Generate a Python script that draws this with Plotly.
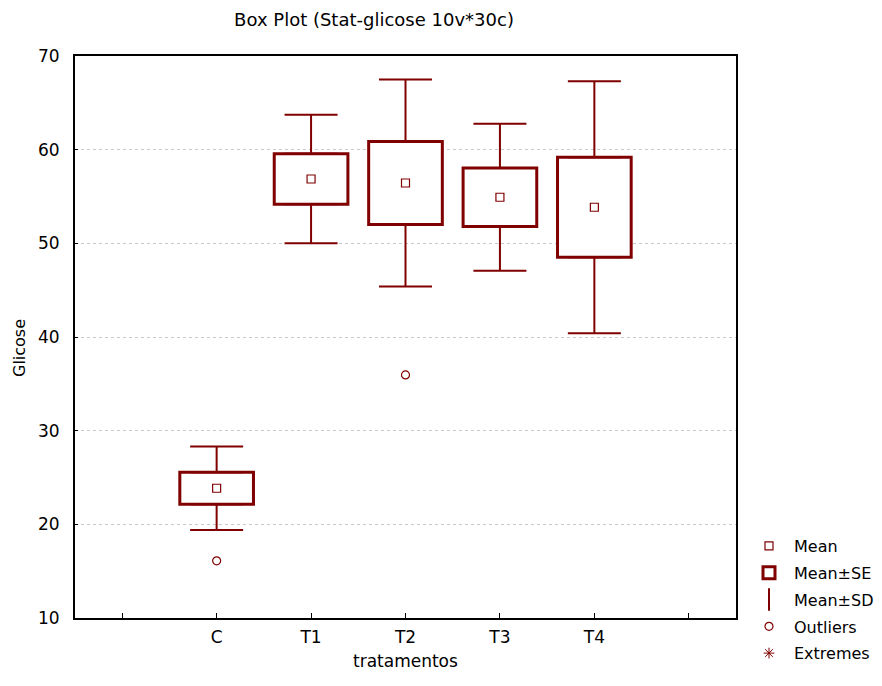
import plotly.graph_objects as go

# ---- data ----
categories = ["C", "T1", "T2", "T3", "T4"]
positions = [1, 2, 3, 4, 5]
means = [23.85, 56.87, 56.44, 54.92, 53.85]
se = [1.70, 2.69, 4.43, 3.12, 5.34]
sd = [4.45, 6.85, 11.05, 7.85, 13.45]
outlier_pos = [1, 3]
outlier_vals = [16.1, 35.95]

tick_vals = [0, 1, 2, 3, 4, 5, 6]
tick_text = ["", "C", "T1", "T2", "T3", "T4", ""]
y_ticks = [10, 20, 30, 40, 50, 60, 70]

RED = "#800000"
FONT = "DejaVu Sans, Liberation Sans, Arial, sans-serif"

fig = go.Figure()

# Mean markers
fig.add_trace(go.Scatter(
    x=positions, y=means, mode="markers", name="Mean", legendgroup="a",
    marker=dict(symbol="square-open", size=8, color=RED, line=dict(width=1.2, color=RED)),
    hoverinfo="skip"))

# Mean ± SE boxes
fig.add_trace(go.Bar(
    x=positions, base=[m - s for m, s in zip(means, se)], y=[2 * s for s in se],
    width=0.78, name="Mean±SE", legendgroup="b",
    marker=dict(color="white", line=dict(color=RED, width=3)),
    hoverinfo="skip"))

# Mean ± SD whiskers (upper and lower)
fig.add_trace(go.Scatter(
    x=positions, y=[m + s for m, s in zip(means, se)], mode="markers",
    marker=dict(size=1, color="rgba(0,0,0,0)"), showlegend=False,
    error_y=dict(type="data", symmetric=False,
                 array=[d - s for d, s in zip(sd, se)],
                 arrayminus=[0] * len(se),
                 color=RED, thickness=2, width=26.5),
    hoverinfo="skip"))
fig.add_trace(go.Scatter(
    x=positions, y=[m - s for m, s in zip(means, se)], mode="markers",
    marker=dict(size=1, color="rgba(0,0,0,0)"), showlegend=False,
    error_y=dict(type="data", symmetric=False,
                 array=[0] * len(se),
                 arrayminus=[d - s for d, s in zip(sd, se)],
                 color=RED, thickness=2, width=26.5),
    hoverinfo="skip"))

# legend entry for Mean±SD
fig.add_trace(go.Scatter(
    x=[None], y=[None], mode="markers", name="Mean±SD", legendgroup="c",
    marker=dict(symbol="line-ns-open", size=16, color=RED, line=dict(width=2, color=RED))))

# Outliers
fig.add_trace(go.Scatter(
    x=outlier_pos, y=outlier_vals, mode="markers", name="Outliers", legendgroup="d",
    marker=dict(symbol="circle-open", size=8, color=RED, line=dict(width=1.2, color=RED)),
    hoverinfo="skip"))

# Extremes (none present)
fig.add_trace(go.Scatter(
    x=[None], y=[None], mode="markers", name="Extremes", legendgroup="e",
    marker=dict(symbol="asterisk-open", size=9, color=RED, line=dict(width=1, color=RED))))

for i, t in enumerate(fig.data):
    t.legendrank = i + 1

# page body has an 8px default margin; figure sized to fit the window
W, H = 874, 678
L, R, T, B = 67, 146, 48, 68
PW, PH = W - L - R, H - T - B

fig.update_layout(
    width=W, height=H,
    margin=dict(l=L, r=R, t=T, b=B, autoexpand=False),
    paper_bgcolor="white", plot_bgcolor="white",
    font=dict(family=FONT, size=17, color="black"),
    title=dict(text="Box Plot (Stat-glicose 10v*30c)", x=(366 - L) / PW, xref="paper",
               xanchor="center", y=1 - 12 / H, yanchor="middle",
               font=dict(family=FONT, size=18, color="black")),
    showlegend=True,
    legend=dict(xref="container", yref="container", x=736 / W, xanchor="left",
                y=1 - 521 / H, yanchor="top",
                bgcolor="rgba(0,0,0,0)", font=dict(family=FONT, size=16),
                traceorder="grouped", tracegroupgap=3, itemwidth=40),
    barmode="overlay",
    annotations=[
        dict(text="tratamentos", xref="paper", yref="paper",
             x=0.5, y=(PH + T - 653) / PH, xanchor="center", yanchor="middle",
             showarrow=False, font=dict(family=FONT, size=17, color="black")),
        dict(text="Glicose", xref="paper", yref="paper", textangle=-90,
             x=(11 - L) / PW, y=(PH + T - 340) / PH, xanchor="center", yanchor="middle",
             showarrow=False, font=dict(family=FONT, size=16, color="black")),
    ],
)

fig.update_xaxes(
    range=[-0.5, 6.5], tickmode="array", tickvals=tick_vals, ticktext=tick_text,
    ticks="inside", ticklen=5, tickcolor="black", tickwidth=1,
    showgrid=False, zeroline=False,
    showline=True, linecolor="black", linewidth=2, mirror=True,
    ticklabelstandoff=3,
    tickfont=dict(family=FONT, size=17))

fig.update_yaxes(
    range=[10, 70], tickmode="array", tickvals=y_ticks,
    ticks="inside", ticklen=3, tickcolor="black", tickwidth=1,
    showgrid=True, gridcolor="#c8c8c8", griddash="dot", gridwidth=1,
    zeroline=False,
    showline=True, linecolor="black", linewidth=2, mirror=True,
    ticklabelstandoff=10,
    tickfont=dict(family=FONT, size=17))

fig.write_html("out.html")
